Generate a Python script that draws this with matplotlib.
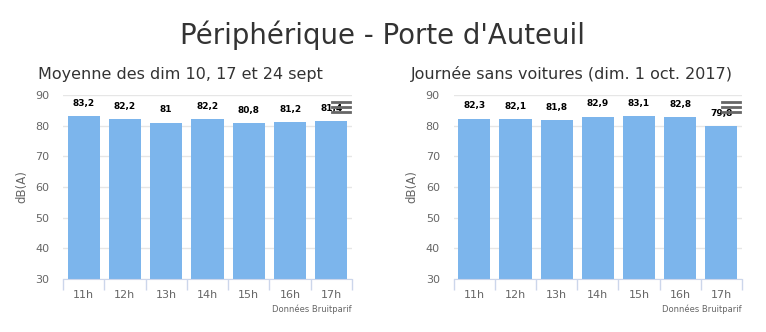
import numpy as np
import matplotlib.pyplot as plt

# Niveaux sonores, périphérique Porte d'Auteuil
heures = ['11h', '12h', '13h', '14h', '15h', '16h', '17h']
moyenne_sept = [83.2, 82.2, 81.0, 82.2, 80.8, 81.2, 81.4]
journee_sans_voitures = [82.3, 82.1, 81.8, 82.9, 83.1, 82.8, 79.8]

sous_titres = ['Moyenne des dim 10, 17 et 24 sept',
               'Journée sans voitures (dim. 1 oct. 2017)']

plt.rcParams['font.family'] = ['DejaVu Sans']
bar_color = '#7cb5ec'
grey = '#666666'

fig = plt.figure(figsize=(7.66, 3.32), dpi=100)
fig.text(0.5, 0.895, 'Périphérique - Porte d\'Auteuil', ha='center', va='center',
         fontsize=19.8, color='#333333')

positions = [[63 / 766, 0.1596, 289 / 766, 0.5543],
             [453.7 / 766, 0.1596, 288.3 / 766, 0.5543]]
centres = [180.5 / 766, 572 / 766]

for pos, cx, titre, valeurs in zip(positions, centres, sous_titres,
                                    [moyenne_sept, journee_sans_voitures]):
    ax = fig.add_axes(pos)
    x = np.arange(len(heures))
    ax.bar(x, [v - 30 for v in valeurs], bottom=30, width=0.78, color=bar_color, zorder=2)
    for xi, v in zip(x, valeurs):
        lbl = ('%g' % v).replace('.', ',')
        ax.annotate(lbl, (xi, v), xytext=(0, 6), textcoords='offset points',
                    ha='center', va='bottom', fontsize=6.5, fontweight='bold', color='black')
    ax.set_xlim(-0.5, len(heures) - 0.5)
    ax.set_ylim(30, 90)
    ax.set_yticks(range(30, 91, 10))
    ax.yaxis.grid(True, color='#e6e6e6', linewidth=1, zorder=0)
    ax.set_xticks(x)
    ax.set_xticklabels(heures)
    ax.set_xticks(np.arange(-0.5, len(heures)), minor=True)
    ax.tick_params(axis='x', which='major', length=0, pad=8, labelsize=8, labelcolor=grey)
    ax.tick_params(axis='x', which='minor', length=8, color='#ccd6eb', width=1)
    ax.tick_params(axis='y', length=0, pad=10, labelsize=8, labelcolor=grey)
    for s in ['top', 'left', 'right']:
        ax.spines[s].set_visible(False)
    ax.spines['bottom'].set_color('#ccd6eb')
    ax.set_ylabel('dB(A)', color=grey, fontsize=8.5, labelpad=5)
    fig.text(cx, 0.777, titre, ha='center', va='center', fontsize=11.5, color='#333333')
    # crédits
    x1 = pos[0] + pos[2]
    fig.text(x1, 0.07, 'Données Bruitparif', ha='right', va='center', fontsize=6, color=grey)
    # icône menu
    for k in range(3):
        yy = 1 - (102 + 5 * k) / 332
        fig.add_artist(plt.Line2D([x1 - 20 / 766, x1 - 2 / 766], [yy, yy],
                                  color=grey, linewidth=2))

fig.savefig('out.png', dpi=100)
